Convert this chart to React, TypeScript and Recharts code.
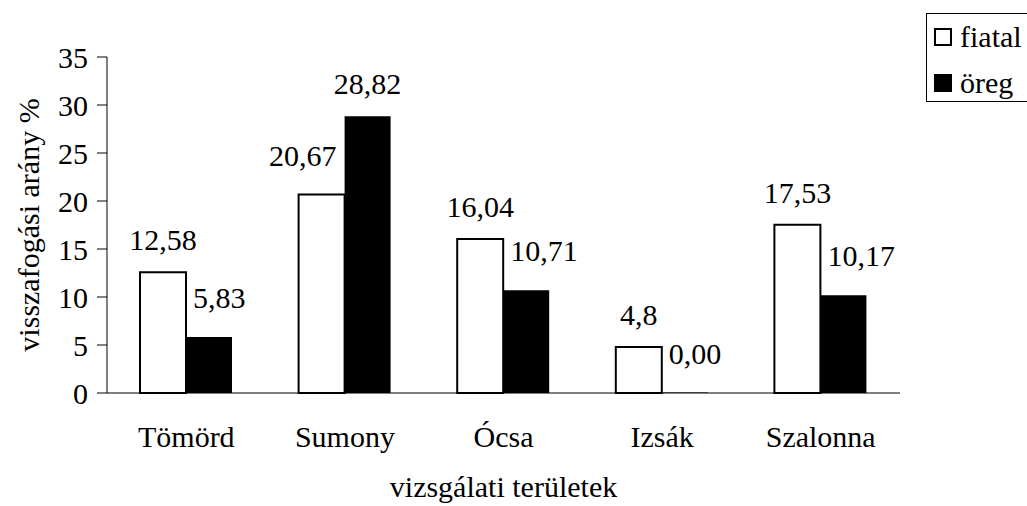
import React from 'react';
import { BarChart, Bar, XAxis, YAxis, Legend, LabelList } from 'recharts';

// visszafogási arány % by study area
const sites = ['Tömörd', 'Sumony', 'Ócsa', 'Izsák', 'Szalonna'];
const fiatal = [12.58, 20.67, 16.04, 4.8, 17.53];
const oreg = [5.83, 28.82, 10.71, 0, 10.17];
const fiatalLabels = ['12,58', '20,67', '16,04', '4,8', '17,53'];
const oregLabels = ['5,83', '28,82', '10,71', '0,00', '10,17'];
const yTicks = [0, 5, 10, 15, 20, 25, 30, 35];
const edgeTicks = [0, 1, 2, 3, 4, 5];

const FONT = 'Liberation Serif';
const SIZE = 30;

const data = sites.map((site, i) => ({
  site,
  edge: i,
  fiatal: fiatal[i],
  oreg: oreg[i],
  fiatalLabel: fiatalLabels[i],
  oregLabel: oregLabels[i],
}));

// Excel-style data label: centred above the bar, pushed aside when the
// neighbouring bar of the pair is taller and would cover it
const BarLabel = ({ x, y, width, value, index, own, other, side }: any) => {
  const blocked = other[index] > own[index];
  let tx = x + width / 2;
  let anchor: 'middle' | 'start' | 'end' = 'middle';
  if (blocked && side === 'left') {
    tx = x + width - 8;
    anchor = 'end';
  }
  if (blocked && side === 'right') {
    tx = x + 7;
    anchor = 'start';
  }
  return (
    <text x={tx} y={y - (blocked ? 29 : 22)} textAnchor={anchor} fill="#000" fontFamily={FONT} fontSize={SIZE}>
      {value}
    </text>
  );
};

const YLabel = ({ viewBox }: any) => {
  const cx = viewBox.x + 28;
  const cy = viewBox.y + viewBox.height / 2;
  return (
    <text
      x={cx}
      y={cy}
      transform={`rotate(-90 ${cx} ${cy})`}
      textAnchor="middle"
      dominantBaseline="central"
      fill="#000"
      fontFamily={FONT}
      fontSize={SIZE}
    >
      visszafogási arány %
    </text>
  );
};

const XLabel = ({ viewBox }: any) => (
  <text
    x={viewBox.x + viewBox.width / 2}
    y={viewBox.y + 104}
    textAnchor="middle"
    fill="#000"
    fontFamily={FONT}
    fontSize={SIZE}
  >
    vizsgálati területek
  </text>
);

const LegendBox = ({ payload }: any) => (
  <div
    style={{
      width: 102,
      height: 89,
      boxSizing: 'border-box',
      border: '1px solid #000',
      background: '#fff',
      paddingTop: 3,
      paddingLeft: 7,
      fontFamily: FONT,
      fontSize: SIZE,
      color: '#000',
      textAlign: 'left',
    }}
  >
    {(payload || []).map((entry: any) => (
      <div key={entry.value} style={{ display: 'flex', alignItems: 'center', height: 40, marginBottom: 6 }}>
        <span
          style={{
            display: 'inline-block',
            width: 18,
            height: 18,
            boxSizing: 'border-box',
            border: '2px solid #000',
            background: entry.color,
            marginRight: 8,
          }}
        />
        <span style={{ lineHeight: '40px' }}>{entry.value}</span>
      </div>
    ))}
  </div>
);

export default function App() {
  return (
    <div style={{ position: 'absolute', left: 0, top: 0, background: '#fff', fontFamily: FONT }}>
      <BarChart
        width={1027}
        height={506}
        data={data}
        margin={{ top: 57, right: 25, bottom: 0, left: 0 }}
        barGap={0}
        barSize={46}
      >
        <XAxis
          xAxisId="edge"
          type="number"
          dataKey="edge"
          domain={[0, 5]}
          ticks={edgeTicks}
          allowDataOverflow
          tick={false}
          tickLine={{ stroke: '#000', strokeWidth: 1 }}
          tickSize={8}
          axisLine={false}
          height={0}
        />
        <XAxis
          xAxisId="cat"
          dataKey="site"
          tickLine={false}
          tickSize={6}
          tickMargin={27}
          axisLine={{ stroke: '#000', strokeWidth: 1 }}
          tick={{ fill: '#000', fontSize: SIZE, fontFamily: FONT }}
          height={113}
          label={(props: any) => <XLabel {...props} />}
        />
        <YAxis
          width={107}
          domain={[0, 35]}
          ticks={yTicks}
          tickSize={10}
          tickMargin={9}
          axisLine={{ stroke: '#000', strokeWidth: 1 }}
          tickLine={{ stroke: '#000', strokeWidth: 1 }}
          tick={{ fill: '#000', fontSize: SIZE, fontFamily: FONT }}
          label={(props: any) => <YLabel {...props} />}
        />
        <Legend
          layout="vertical"
          align="right"
          verticalAlign="top"
          content={<LegendBox />}
          wrapperStyle={{ top: 13, right: -1, width: 102 }}
        />
        <Bar
          xAxisId="cat"
          dataKey="fiatal"
          name="fiatal"
          fill="#fff"
          stroke="#000"
          strokeWidth={2}
          isAnimationActive={false}
        >
          <LabelList
            dataKey="fiatalLabel"
            content={(p: any) => <BarLabel {...p} own={fiatal} other={oreg} side="left" />}
          />
        </Bar>
        <Bar
          xAxisId="cat"
          dataKey="oreg"
          name="öreg"
          fill="#000"
          minPointSize={0.5}
          isAnimationActive={false}
        >
          <LabelList
            dataKey="oregLabel"
            content={(p: any) => <BarLabel {...p} own={oreg} other={fiatal} side="right" />}
          />
        </Bar>
      </BarChart>
    </div>
  );
}
